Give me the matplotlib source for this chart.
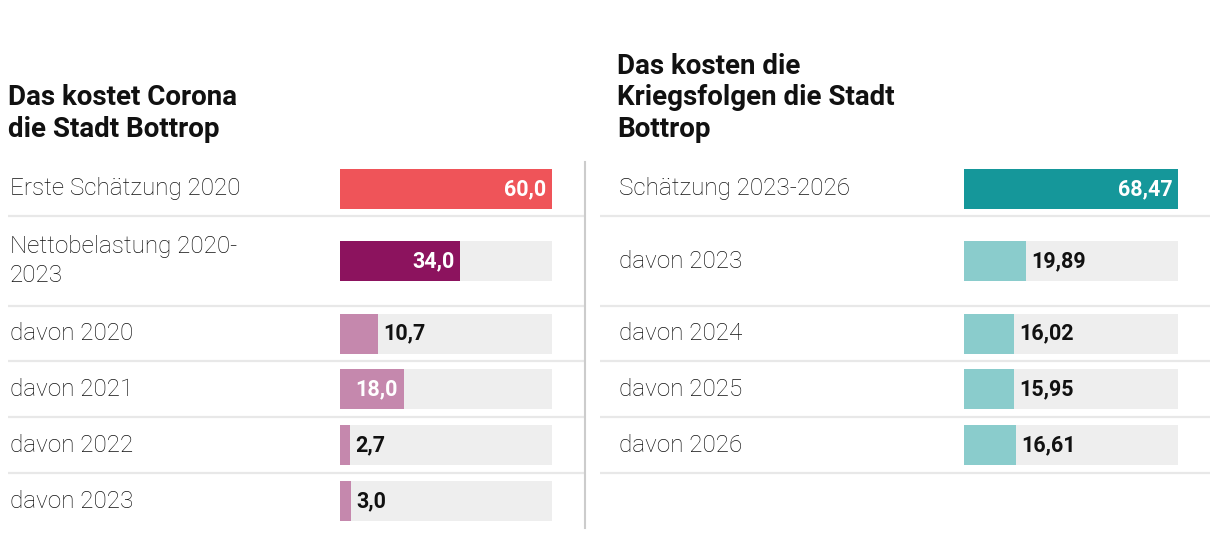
import matplotlib.pyplot as plt
import numpy as np

# data
corona_labels = ['Erste Schätzung 2020', 'Nettobelastung 2020-\n2023', 'davon 2020',
                 'davon 2021', 'davon 2022', 'davon 2023']
corona_values = [60.0, 34.0, 10.7, 18.0, 2.7, 3.0]
krieg_labels = ['Schätzung 2023-2026', 'davon 2023', 'davon 2024', 'davon 2025', 'davon 2026']
krieg_values = [68.47, 19.89, 16.02, 15.95, 16.61]

corona_title = 'Das kostet Corona\ndie Stadt Bottrop'
krieg_title = 'Das kosten die\nKriegsfolgen die Stadt\nBottrop'

# style
corona_colors = ['#EF5459', '#8C135E', '#C588AD', '#C588AD', '#C588AD', '#C588AD']
krieg_colors = ['#15979A', '#8ACCCC', '#8ACCCC', '#8ACCCC', '#8ACCCC']
corona_inside = [True, True, False, True, False, False]
krieg_inside = [True, False, False, False, False]
TRACK = '#EEEEEE'
SEP = '#E8E8E8'
FONT = 'Roboto'

W, H = 1220, 538
row_heights = [54, 90, 55, 56, 56, 56]
top = 162
bounds = top + np.concatenate([[0], np.cumsum(row_heights)])
centers = (bounds[:-1] + bounds[1:]) / 2

fig = plt.figure(figsize=(W / 100, H / 100), dpi=100)
bg = fig.add_axes([0, 0, 1, 1])
bg.set_xlim(0, W)
bg.set_ylim(H, 0)
bg.axis('off')


def panel(labels, values, colors, inside, title, x_text, x_bar, w_bar, x_sep0, x_sep1):
    n = len(values)
    # titles
    bg.text(x_text - 2, 143, title, fontsize=20, fontweight='bold', family=FONT,
            va='bottom', ha='left', linespacing=1.22, color='#111111')
    # row labels
    for i, lab in enumerate(labels):
        bg.text(x_text, centers[i], lab, fontsize=17.5, fontweight='light', family=FONT,
                va='center', ha='left', linespacing=1.32, color='#111111')
    # separators
    for b in bounds[1:6]:
        bg.plot([x_sep0, x_sep1], [b, b], color=SEP, lw=1.6, solid_capstyle='butt')

    ax = fig.add_axes([x_bar / W, 0, w_bar / W, 1])
    ax.set_ylim(H, 0)
    vmax = max(values)
    ax.set_xlim(0, vmax)
    ax.axis('off')
    y = centers[:n]
    ax.barh(y, [vmax] * n, height=40, color=TRACK)
    ax.barh(y, values, height=40, color=colors)
    for yi, v, ins in zip(y, values, inside):
        txt = f'{v:.2f}' if vmax > 60 else f'{v:.1f}'
        txt = txt.replace('.', ',')
        if ins:
            ax.annotate(txt, (v, yi), xytext=(-4, 0), textcoords='offset points',
                        ha='right', va='center', color='white', fontsize=15.5,
                        fontweight='bold', family=FONT)
        else:
            ax.annotate(txt, (v, yi), xytext=(4, 0), textcoords='offset points',
                        ha='left', va='center', color='#111111', fontsize=15.5,
                        fontweight='bold', family=FONT)


panel(corona_labels, corona_values, corona_colors, corona_inside, corona_title,
      10, 340, 212, 8, 585)
panel(krieg_labels, krieg_values, krieg_colors, krieg_inside, krieg_title,
      619, 964, 214, 600, 1210)

# divider
bg.plot([585, 585], [162, 528], color='#CCCCCC', lw=1.5)

fig.savefig('out.png', dpi=100)
